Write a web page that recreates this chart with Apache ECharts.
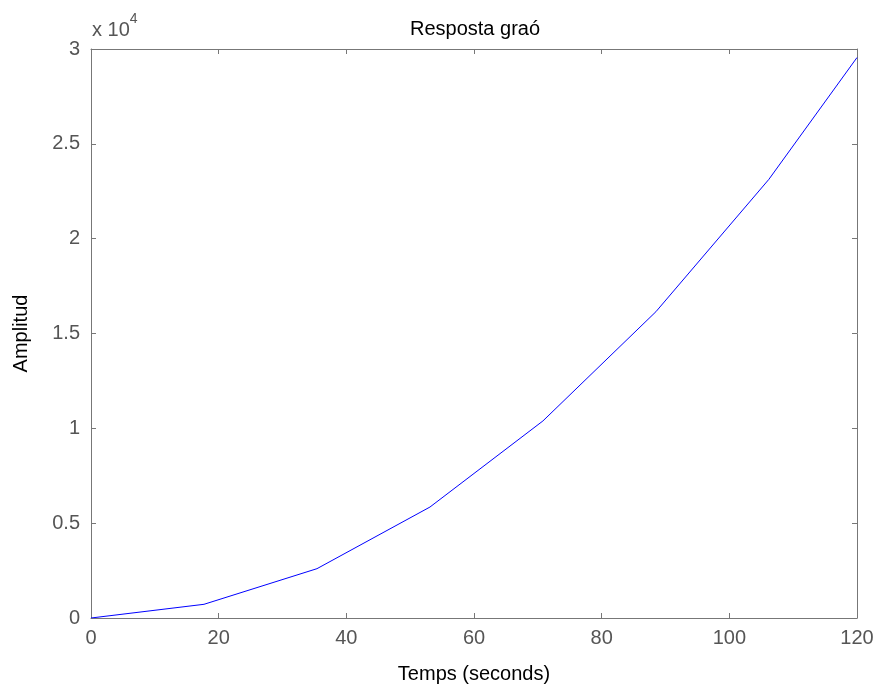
<!DOCTYPE html>
<html>
<head>
<meta charset="utf-8">
<script src="https://cdn.jsdelivr.net/npm/echarts@6/dist/echarts.min.js"></script>
<style>
	html, body { margin: 0; padding: 0; background: #fff; }
	#main { width: 877px; height: 689px; }
</style>
</head>
<body>
<div id="main"></div>
<script>
// data
const timeValues = [0, 17.7, 35.4, 53.1, 70.8, 88.5, 106.2, 120];
const amplitudeValues = [0, 722, 2600, 5850, 10390, 16150, 23130, 29550];
const xTicks = [0, 20, 40, 60, 80, 100, 120];
const yTicks = [0, 0.5, 1, 1.5, 2, 2.5, 3];

const points = timeValues.map((t, i) => [t, amplitudeValues[i]]);

const myChart = echarts.init(document.getElementById('main'));

const fontFamily = 'Liberation Sans, Arial, sans-serif';
const axisColor = '#777';
const labelColor = '#555';

// plain box axis (top / right) with inward ticks
function boxAxis(extra) {
	return Object.assign({
		type: 'value',
		axisLine: { show: true, onZero: false, lineStyle: { color: axisColor, width: 1 } },
		axisTick: { show: true, inside: true, length: 5, lineStyle: { color: axisColor } },
		axisLabel: { show: false },
		splitLine: { show: false }
	}, extra);
}

const option = {
	backgroundColor: '#fff',
	animation: false,
	title: {
		text: 'Resposta graó',
		left: 470,
		top: 14,
		textAlign: 'center',
		textStyle: { fontFamily, fontSize: 20, fontWeight: 'normal', color: '#000' }
	},
	graphic: [
		{
			type: 'text',
			left: 92,
			top: 12,
			style: {
				text: '{a|x 10}{b|4}',
				rich: {
					a: { fontFamily, fontSize: 20, fill: labelColor, verticalAlign: 'bottom', padding: [8, 0, 0, 0] },
					b: { fontFamily, fontSize: 14, fill: labelColor, verticalAlign: 'top' }
				}
			}
		}
	],
	grid: { left: 91, right: 20, top: 49, bottom: 67, containLabel: false },
	xAxis: [
		boxAxis({
			position: 'bottom',
			min: 0,
			max: 120,
			interval: 20,
			name: 'Temps (seconds)',
			nameLocation: 'middle',
			nameGap: 46,
			nameTextStyle: { fontFamily, fontSize: 20, color: '#000' },
			axisLabel: {
				show: true,
				fontFamily,
				fontSize: 20,
				color: labelColor,
				margin: 10,
				formatter: (v) => (xTicks.includes(v) ? String(v) : '')
			}
		}),
		boxAxis({ position: 'top', min: 0, max: 120, interval: 20 })
	],
	yAxis: [
		boxAxis({
			position: 'left',
			min: 0,
			max: 30000,
			interval: 5000,
			name: 'Amplitud',
			nameLocation: 'middle',
			nameGap: 60,
			nameRotate: 90,
			nameTextStyle: { fontFamily, fontSize: 20, color: '#000' },
			axisLabel: {
				show: true,
				fontFamily,
				fontSize: 20,
				color: labelColor,
				margin: 11,
				formatter: (v) => {
					const t = v / 10000;
					return yTicks.includes(t) ? String(t) : '';
				}
			}
		}),
		boxAxis({ position: 'right', min: 0, max: 30000, interval: 5000 })
	],
	series: [
		{
			type: 'line',
			data: points,
			xAxisIndex: 0,
			yAxisIndex: 0,
			symbol: 'none',
			lineStyle: { color: '#0000ff', width: 1 }
		}
	]
};

myChart.setOption(option);
</script>
</body>
</html>
